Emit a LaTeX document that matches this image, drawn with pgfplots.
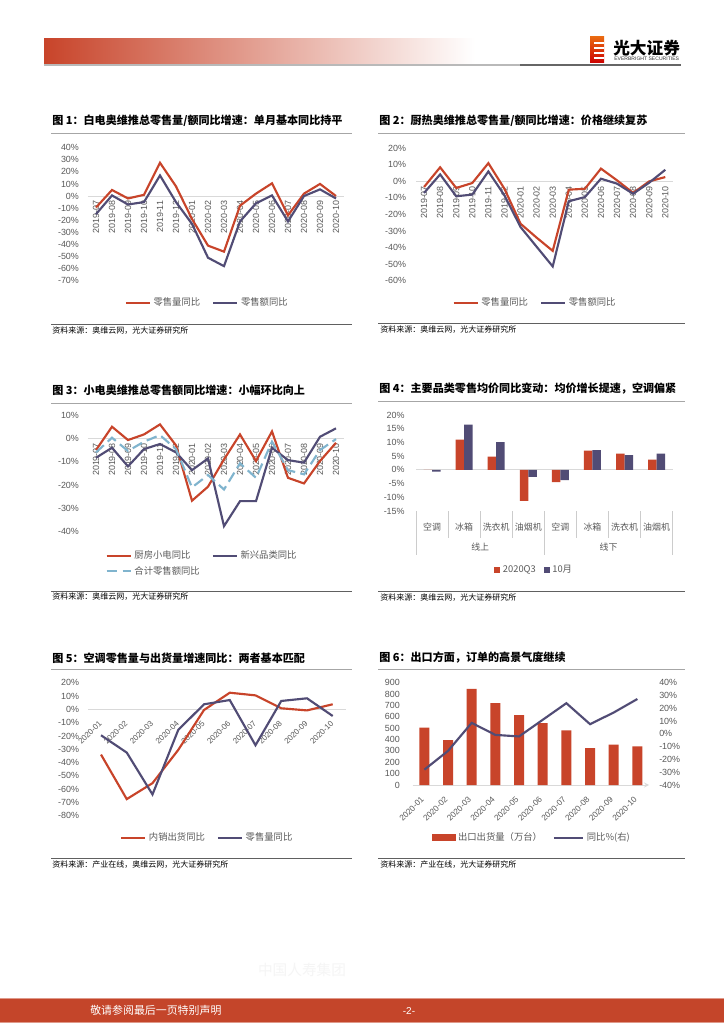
\documentclass[border=0pt]{standalone}
\usepackage{fontspec}
\setmainfont{Liberation Sans}
\newfontfamily\cjk{Noto Sans CJK SC}
\usepackage{pgfplots}
\pgfplotsset{compat=1.18}

\definecolor{myred}{HTML}{C8442A}
\definecolor{footred}{HTML}{C4452A}
\definecolor{mypurple}{HTML}{514C75}
\definecolor{myblue}{HTML}{80B4CE}
\definecolor{ticktxt}{HTML}{595959}
\definecolor{zeroline}{HTML}{D9D9D9}
\definecolor{rulegray}{HTML}{A6A6A6}

\newcommand\tfont{\fontsize{6.7}{8}\selectfont}
\newcommand\ttl{\cjk\bfseries\fontsize{8.3}{10}\selectfont}
\newcommand\src{\cjk\fontsize{6}{7}\selectfont}

\pgfplotsset{
  rpt/.style={
    scale only axis, anchor=south west, clip=false,
    axis x line=middle, axis y line=left,
    x axis line style={zeroline, line width=0.75pt, -},
    y axis line style={draw=none},
    major tick length=0pt,
    tick label style={font=\tfont, text=ticktxt},
    yticklabel={\pgfmathprintnumber[assume math mode=true]{\tick}\%},
    legend columns=2,
    legend cell align=left,
    legend style={draw=none, fill=none, anchor=center,
      font=\cjk\fontsize{7}{8}\selectfont, text=ticktxt,
      /tikz/every even column/.append style={column sep=7pt}},
    legend image code/.code={\draw[#1] (0pt,0pt) -- (18pt,0pt);},
  },
  redl/.style={myred, line width=1.6pt},
  purl/.style={mypurple, line width=1.6pt},
}

\begin{document}
\begin{tikzpicture}
% page background
\begin{scope}[x=0.75pt,y=-0.75pt]
  \fill[white] (0,0) rectangle (724,1024);
\end{scope}

% ---------- chart 1
\begin{axis}[rpt, at={(66pt,-210.5pt)}, width=192pt, height=99.75pt,
    xmin=-0.5, xmax=15.5, ymin=-70, ymax=40,
    ytick={-70,-60,...,40}, yticklabel style={xshift=-3.3pt},
    xtick={0,...,15},
    xticklabels={2019-07,2019-08,2019-09,2019-10,2019-11,2019-12,2020-01,2020-02,2020-03,2020-04,2020-05,2020-06,2020-07,2020-08,2020-09,2020-10},
    x tick label style={rotate=90, anchor=east},
    legend style={at={(0.467,-0.168)}}]
  \addplot[redl] coordinates {(0,-9.5) (1,5) (2,-2) (3,1) (4,27.5) (5,8) (6,-19) (7,-41) (8,-46) (9,-8) (10,2) (11,10.5) (12,-16) (13,2) (14,10) (15,0)};
  \addlegendentry{零售量同比}
  \addplot[purl] coordinates {(0,-15) (1,0.5) (2,-7) (3,-5) (4,17) (5,-5) (6,-23) (7,-51) (8,-58) (9,-21) (10,-6) (11,0.5) (12,-21) (13,0) (14,5.5) (15,-2)};
  \addlegendentry{零售额同比}
\end{axis}

% ---------- chart 2
\begin{axis}[rpt, at={(312pt,-210.5pt)}, width=193pt, height=99.3pt,
    xmin=-0.5, xmax=15.5, ymin=-60, ymax=20,
    ytick={-60,-50,...,20}, yticklabel style={xshift=-4pt},
    xtick={0,...,15},
    xticklabels={2019-07,2019-08,2019-09,2019-10,2019-11,2019-12,2020-01,2020-02,2020-03,2020-04,2020-05,2020-06,2020-07,2020-08,2020-09,2020-10},
    x tick label style={rotate=90, anchor=east},
    legend style={at={(0.464,-0.168)}}]
  \addplot[redl] coordinates {(0,-3.4) (1,8.5) (2,-4) (3,-1) (4,11) (5,-4.5) (6,-25.6) (7,-34) (8,-42) (9,-5) (10,-4.5) (11,7.7) (12,0.6) (13,-7) (14,0) (15,2.6)};
  \addlegendentry{零售量同比}
  \addplot[purl] coordinates {(0,-7) (1,4.2) (2,-9) (3,-8) (4,6) (5,-8.5) (6,-27.6) (7,-39.5) (8,-51.4) (9,-12) (10,-9.5) (11,1.6) (12,-1.4) (13,-7.5) (14,-0.8) (15,7)};
  \addlegendentry{零售额同比}
\end{axis}

% ---------- chart 3
\begin{axis}[rpt, at={(66pt,-398.8pt)}, width=192pt, height=87.5pt,
    xmin=-0.5, xmax=15.5, ymin=-40, ymax=10,
    ytick={-40,-30,...,10}, yticklabel style={xshift=-3.3pt},
    xtick={0,...,15},
    xticklabels={2019-07,2019-08,2019-09,2019-10,2019-11,2019-12,2020-01,2020-02,2020-03,2020-04,2020-05,2020-06,2020-07,2020-08,2020-09,2020-10},
    x tick label style={rotate=90, anchor=east},
    legend style={at={(0.447,-0.272)}}]
  \addplot[redl] coordinates {(0,-5) (1,5) (2,-0.7) (3,1.7) (4,6) (5,-3) (6,-26.7) (7,-20.7) (8,-9) (9,1.7) (10,-9.7) (11,3) (12,-16.9) (13,-19.3) (14,-9.7) (15,-1.9)};
  \addlegendentry{厨房小电同比}
  \addplot[purl] coordinates {(0,-8.3) (1,-4) (2,-12) (3,-4.6) (4,-2.4) (5,-6) (6,-13.6) (7,-8.6) (8,-37.6) (9,-26.9) (10,-26.9) (11,-4) (12,-9.3) (13,-10.4) (14,0.7) (15,4.3)};
  \addlegendentry{新兴品类同比}
  \addplot[myblue, line width=1.6pt, dash pattern=on 8pt off 4pt] coordinates {(0,-6) (1,0.3) (2,-5.4) (3,-1.4) (4,1.4) (5,-4.6) (6,-21) (7,-15.7) (8,-21.9) (9,-10.7) (10,-16.9) (11,-1.4) (12,-13.6) (13,-15.4) (14,-5) (15,-0.3)};
  \addlegendentry{合计零售额同比}
\end{axis}

% ---------- chart 4
\begin{axis}[rpt, at={(312pt,-383.25pt)}, width=192.5pt, height=72pt,
    axis x line=bottom, x axis line style={draw=none},
    ybar=0pt, bar width=6.4pt,
    xmin=-0.5, xmax=7.5, ymin=-15, ymax=20,
    ytick={-15,-10,...,20}, yticklabel style={xshift=-5pt},
    extra y ticks={0}, extra y tick labels={},
    extra y tick style={grid=major, major grid style={zeroline, line width=0.75pt}},
    xtick={0,...,7},
    xticklabels={空调,冰箱,洗衣机,油烟机,空调,冰箱,洗衣机,油烟机},
    x tick label style={font=\cjk\tfont, anchor=center, yshift=-11.8pt},
    legend image code/.code={\fill[#1] (0pt,-2.2pt) rectangle (4.4pt,2.2pt);},
    legend style={at={(0.462,-0.615)}, /tikz/every even column/.append style={column sep=4pt}}]
  \addplot[fill=myred, draw=none] coordinates {(0,0) (1,11) (2,4.8) (3,-11.3) (4,-4.5) (5,7) (6,5.9) (7,3.7)};
  \addlegendentry{2020Q3}
  \addplot[fill=mypurple, draw=none] coordinates {(0,-0.6) (1,16.5) (2,10.1) (3,-2.6) (4,-3.7) (5,7.2) (6,5.4) (7,5.9)};
  \addlegendentry{10月}
\end{axis}

% ---------- chart 5
\begin{axis}[rpt, at={(66.1pt,-611.8pt)}, width=193.1pt, height=99.75pt,
    xmin=-0.5, xmax=9.5, ymin=-80, ymax=20,
    ytick={-80,-70,...,20}, yticklabel style={xshift=-3.3pt},
    xtick={0,...,9},
    xticklabels={2020-01,2020-02,2020-03,2020-04,2020-05,2020-06,2020-07,2020-08,2020-09,2020-10},
    x tick label style={font=\fontsize{6}{7}\selectfont, xshift=2pt, yshift=-7pt, rotate=45, anchor=east},
    legend style={at={(0.464,-0.165)}}]
  \addplot[redl] coordinates {(0,-34) (1,-67.5) (2,-55.5) (3,-30.5) (4,-0.5) (5,12.5) (6,10.5) (7,0.8) (8,-0.8) (9,3.8)};
  \addlegendentry{内销出货同比}
  \addplot[purl] coordinates {(0,-19.5) (1,-32.5) (2,-64) (3,-15.5) (4,3.8) (5,7) (6,-27) (7,6.3) (8,8.3) (9,-5)};
  \addlegendentry{零售量同比}
\end{axis}

% ---------- chart 6 (bars, left axis)
\begin{axis}[rpt, at={(309.4pt,-588.75pt)}, width=177.5pt, height=76.7pt,
    axis x line=bottom,
    ybar, bar width=7.5pt,
    xmin=-0.5, xmax=9.5, ymin=0, ymax=900,
    ytick={0,100,...,900},
    yticklabel={\pgfmathprintnumber[assume math mode=true]{\tick}},
    yticklabel style={xshift=-6pt},
    xtick={0,...,9},
    xticklabels={2020-01,2020-02,2020-03,2020-04,2020-05,2020-06,2020-07,2020-08,2020-09,2020-10},
    x tick label style={font=\fontsize{6.2}{7}\selectfont, xshift=1pt, yshift=-7.5pt, rotate=45, anchor=east}]
  \addplot[fill=myred, draw=none] coordinates {(0,505) (1,395) (2,845) (3,720) (4,615) (5,545) (6,480) (7,325) (8,355) (9,340)};
\end{axis}
% ---------- chart 6 (line, right axis)
\begin{axis}[rpt, at={(309.4pt,-588.75pt)}, width=177.5pt, height=76.7pt,
    axis x line=none, axis y line=right,
    xmin=-0.5, xmax=9.5, ymin=-40, ymax=40,
    xtick=\empty,
    ytick={-40,-30,...,40}, yticklabel style={xshift=4pt},
    legend image code/.code={\draw[#1] (0pt,0pt) -- (22pt,0pt);},
    legend style={at={(0.506,-0.515)}, /tikz/every even column/.append style={column sep=6pt}}]
  \addlegendimage{legend image code/.code={\fill[myred] (0pt,-2.3pt) rectangle (17pt,2.3pt);}}
  \addlegendentry{出口出货量（万台）}
  \addplot[purl] coordinates {(0,-28) (1,-13.3) (2,8.6) (3,-0.8) (4,-2) (5,11) (6,24) (7,7.6) (8,16.7) (9,27.3)};
  \addlegendentry{同比\%(右)}
\end{axis}

% ---------- page decorations
\begin{scope}[x=0.75pt,y=-0.75pt]
  % header
  \shade[left color=myred, right color=white] (44,39) rectangle (475,64);
  \draw[gray!55, line width=0.8pt] (44,65) -- (520,65);
  \draw[gray!80!black, line width=0.8pt] (520,65) -- (681,65);
  \shade[top color=orange!60!myred, bottom color=red!80!black] (590,37) rectangle (604,63);
  \foreach \yy in {42.5,47.5,52.5,57.5} \fill[white] (594,\yy) rectangle (604,\yy+1.6);
  \node[anchor=west, inner sep=0, font=\cjk\bfseries\fontsize{12.5}{13}\selectfont] at (613,48.5) {光大证券};
  \node[anchor=west, inner sep=0, font=\fontsize{3.8}{4}\selectfont, text=black!80] at (614,59) {EVERBRIGHT SECURITIES};

  % titles
  \node[anchor=west, inner sep=0, font=\ttl] at (52,121) {图 1：白电奥维推总零售量/额同比增速：单月基本同比持平};
  \node[anchor=west, inner sep=0, font=\ttl] at (379,120.5) {图 2：厨热奥维推总零售量/额同比增速：价格继续复苏};
  \node[anchor=west, inner sep=0, font=\ttl] at (52,390) {图 3：小电奥维推总零售额同比增速：小幅环比向上};
  \node[anchor=west, inner sep=0, font=\ttl] at (379,389) {图 4：主要品类零售均价同比变动：均价增长提速，空调偏紧};
  \node[anchor=west, inner sep=0, font=\ttl] at (52,658) {图 5：空调零售量与出货量增速同比：两者基本匹配};
  \node[anchor=west, inner sep=0, font=\ttl] at (379,657.7) {图 6：出口方面，订单的高景气度继续};

  % title rules
  \foreach \yy in {133.5,403.3,669} \draw[rulegray, line width=0.75pt] (51,\yy) -- (352,\yy);
  \foreach \yy in {133,401.7,669} \draw[rulegray, line width=0.75pt] (378,\yy) -- (685,\yy);
  % source rules
  \foreach \yy in {324,591,858.3} \draw[gray!75!black, line width=0.75pt] (51,\yy) -- (352,\yy);
  \foreach \yy in {323,591.7,858.3} \draw[gray!75!black, line width=0.75pt] (378,\yy) -- (685,\yy);

  % sources
  \node[anchor=west, inner sep=0, font=\src] at (52,331) {资料来源：奥维云网，光大证券研究所};
  \node[anchor=west, inner sep=0, font=\src] at (380,329.5) {资料来源：奥维云网，光大证券研究所};
  \node[anchor=west, inner sep=0, font=\src] at (52,597) {资料来源：奥维云网，光大证券研究所};
  \node[anchor=west, inner sep=0, font=\src] at (380,598) {资料来源：奥维云网，光大证券研究所};
  \node[anchor=west, inner sep=0, font=\src] at (52,865) {资料来源：产业在线，奥维云网，光大证券研究所};
  \node[anchor=west, inner sep=0, font=\src] at (380,865) {资料来源：产业在线，光大证券研究所};

  % chart 4 category separators and group labels
  \foreach \k in {0,...,8} \draw[gray!40, line width=0.6pt] (416+\k*32.08,511) -- (416+\k*32.08,538);
  \foreach \k in {0,4,8} \draw[gray!40, line width=0.6pt] (416+\k*32.08,538) -- (416+\k*32.08,555);
  \node[font=\cjk\tfont, text=ticktxt] at (480.2,547.5) {线上};
  \node[font=\cjk\tfont, text=ticktxt] at (608.5,547.5) {线下};

  % watermark and footer
  \node[font=\cjk\fontsize{11}{12}\selectfont, text=gray!8] at (302,970) {中国人寿集团};
  \fill[footred] (0,998) rectangle (724,1022.5);
  \draw[footred!55, line width=0.6pt] (0,998.3) -- (724,998.3);
  \draw[footred!55, line width=0.6pt] (0,1022.4) -- (724,1022.4);
  \node[anchor=west, inner sep=0, font=\cjk\fontsize{8.2}{9}\selectfont, text=white] at (90,1010.5) {敬请参阅最后一页特别声明};
  \node[inner sep=0, font=\fontsize{7.5}{9}\selectfont, text=white] at (409,1010.5) {-2-};
\end{scope}

\pgfresetboundingbox
\path[use as bounding box] (0pt,0pt) rectangle (543pt,-768pt);
\end{tikzpicture}
\end{document}
